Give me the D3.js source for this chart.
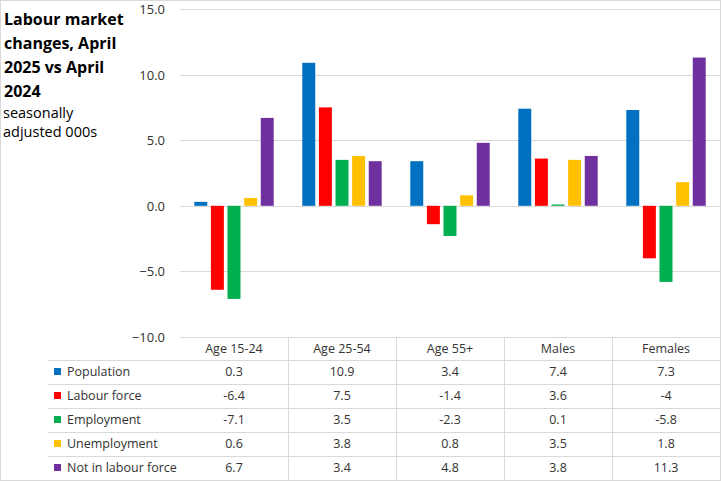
<!DOCTYPE html>
<html>
<head>
<meta charset="utf-8">
<script src="https://cdn.jsdelivr.net/npm/d3@7"></script>
<style>
  body { margin: 0; background: #fff; }
  svg { display: block; font-family: "Open Sans", sans-serif; }
</style>
</head>
<body>
<svg id="chart" width="721" height="481"></svg>
<script>
var categories = ['Age 15-24', 'Age 25-54', 'Age 55+', 'Males', 'Females'];
var seriesNames = ['Population', 'Labour force', 'Employment', 'Unemployment', 'Not in labour force'];
var population = [0.3, 10.9, 3.4, 7.4, 7.3];
var labourForce = [-6.4, 7.5, -1.4, 3.6, -4];
var employment = [-7.1, 3.5, -2.3, 0.1, -5.8];
var unemployment = [0.6, 3.8, 0.8, 3.5, 1.8];
var notInLabourForce = [6.7, 3.4, 4.8, 3.8, 11.3];
var yTicks = [-10, -5, 0, 5, 10, 15];
var colors = ['#0070C0', '#FF0000', '#00B050', '#FFC000', '#7030A0'];

var series = [population, labourForce, employment, unemployment, notInLabourForce];

var svg = d3.select('#chart');
var plotLeft = 180, plotRight = 720, plotTop = 9, plotBottom = 337;
var rowH = 24;

// border
svg.append('rect')
  .attr('x', 0.5).attr('y', 0.5)
  .attr('width', 720).attr('height', 480)
  .attr('fill', 'none').attr('stroke', '#d9d9d9');

var x0 = d3.scaleBand().domain(categories).range([plotLeft, plotRight]);
var x1 = d3.scaleBand().domain(d3.range(5)).range([0, x0.bandwidth()])
  .paddingInner(0.22).paddingOuter(0.86);
var y = d3.scaleLinear().domain([-10, 15]).range([plotBottom, plotTop]);

// gridlines
svg.append('g').selectAll('line')
  .data(yTicks).enter()
  .append('line')
  .attr('x1', plotLeft).attr('x2', plotRight)
  .attr('y1', function(d){ return Math.round(y(d)) + 0.5; })
  .attr('y2', function(d){ return Math.round(y(d)) + 0.5; })
  .attr('stroke', '#d9d9d9');

// y axis labels
svg.append('g').selectAll('text')
  .data(yTicks).enter()
  .append('text')
  .attr('x', 165)
  .attr('y', function(d){ return y(d) + 5; })
  .attr('text-anchor', 'end')
  .attr('font-size', '13px')
  .attr('fill', '#333')
  .text(function(d){ return d3.format('.1f')(d); });

// bars
var groups = svg.append('g').selectAll('g')
  .data(series).enter()
  .append('g')
  .attr('fill', function(d, i){ return colors[i]; });

groups.each(function(vals, si){
  d3.select(this).selectAll('rect')
    .data(vals).enter()
    .append('rect')
    .attr('x', function(d, ci){ return x0(categories[ci]) + x1(si); })
    .attr('width', x1.bandwidth())
    .attr('y', function(d){ return y(Math.max(0, d)); })
    .attr('height', function(d){ return Math.abs(y(d) - y(0)); });
});

// data table
var table = svg.append('g');
var rowLines = d3.range(7);
table.selectAll('line.row')
  .data(rowLines).enter()
  .append('line')
  .attr('class', 'row')
  .attr('x1', function(d){ return d === 0 ? plotLeft : 48; })
  .attr('x2', plotRight)
  .attr('y1', function(d){ return plotBottom + 0.5 + (d === 0 ? 0 : 23 + (d - 1) * rowH); })
  .attr('y2', function(d){ return plotBottom + 0.5 + (d === 0 ? 0 : 23 + (d - 1) * rowH); })
  .attr('stroke', '#d9d9d9');

table.selectAll('line.col')
  .data(categories.slice(1).concat(['end'])).enter()
  .append('line')
  .attr('class', 'col')
  .attr('x1', function(d){ return d === 'end' ? plotRight + 0.5 : x0(d) + 0.5; })
  .attr('x2', function(d){ return d === 'end' ? plotRight + 0.5 : x0(d) + 0.5; })
  .attr('y1', plotBottom)
  .attr('y2', 480)
  .attr('stroke', '#d9d9d9');

// header
table.selectAll('text.head')
  .data(categories).enter()
  .append('text')
  .attr('class', 'head')
  .attr('x', function(d){ return x0(d) + x0.bandwidth() / 2; })
  .attr('y', plotBottom + 16)
  .attr('text-anchor', 'middle')
  .attr('font-size', '12.5px')
  .attr('fill', '#333')
  .text(function(d){ return d; });

series.forEach(function(vals, si){
  var rowY = plotBottom + 23 + si * rowH;
  table.append('rect')
    .attr('x', 54).attr('y', rowY + 8)
    .attr('width', 7).attr('height', 7)
    .attr('fill', colors[si]);
  table.append('text')
    .attr('x', 67).attr('y', rowY + 16)
    .attr('font-size', '12.5px')
    .attr('fill', '#333')
    .text(seriesNames[si]);
  table.selectAll('text.v' + si)
    .data(vals).enter()
    .append('text')
    .attr('x', function(d, ci){ return x0(categories[ci]) + x0.bandwidth() / 2; })
    .attr('y', rowY + 16)
    .attr('text-anchor', 'middle')
    .attr('font-size', '12.5px')
    .attr('fill', '#333')
    .text(function(d){ return d; });
});

// title
var title = svg.append('text')
  .attr('font-size', '16px')
  .attr('font-weight', 'bold')
  .attr('fill', '#000');
['Labour market', 'changes, April', '2025 vs April', '2024'].forEach(function(t, i){
  title.append('tspan').attr('x', 4).attr('y', 25 + i * 24).text(t);
});
var sub = svg.append('text')
  .attr('font-size', '14.5px')
  .attr('fill', '#000');
['seasonally', 'adjusted 000s'].forEach(function(t, i){
  sub.append('tspan').attr('x', 3).attr('y', 118 + i * 19).text(t);
});
</script>
</body>
</html>
